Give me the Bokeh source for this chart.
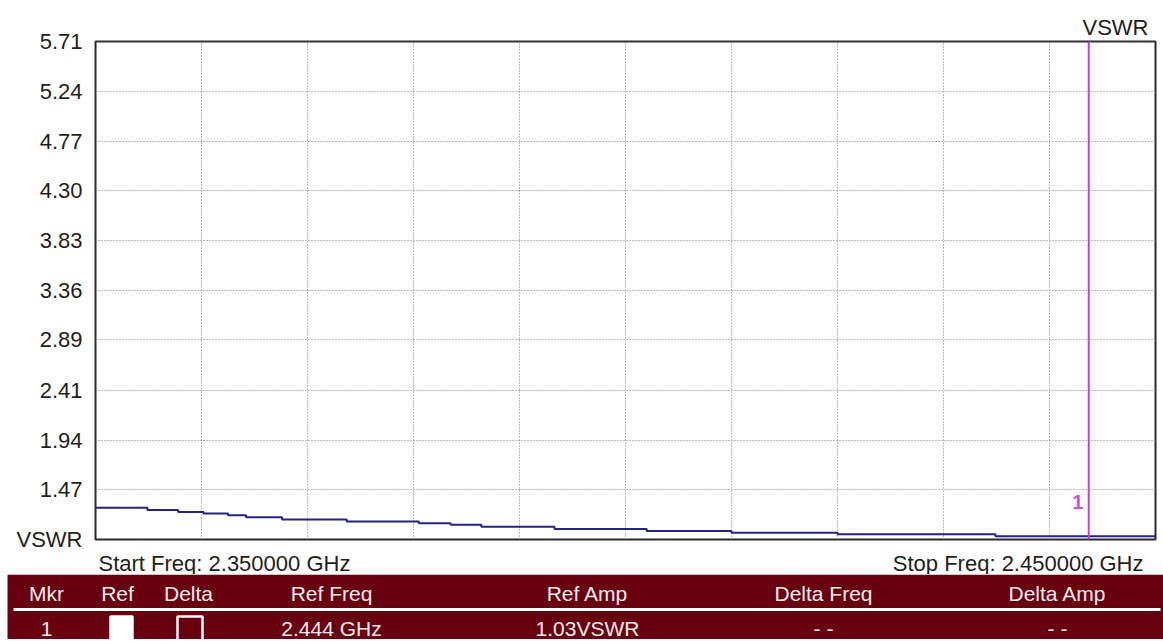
import numpy as np
from bokeh.plotting import figure
from bokeh.models import Range1d, FixedTicker, Label, Span
from bokeh.layouts import column
from bokeh.embed import file_html
from bokeh.resources import INLINE
from bokeh.core.properties import value

# ---------------- data ----------------
start_freq_ghz = 2.35
stop_freq_ghz = 2.45
# step edges of the measured VSWR trace (GHz) and the level of each step
freq_edges_ghz = [2.3500, 2.3549, 2.3578, 2.3602, 2.3625, 2.3642, 2.3676, 2.3737,
                  2.3805, 2.3835, 2.3864, 2.3933, 2.4020, 2.4100, 2.4200, 2.4349, 2.4500]
vswr_levels = [1.30, 1.28, 1.26, 1.245, 1.23, 1.21, 1.19, 1.17,
               1.155, 1.14, 1.12, 1.10, 1.08, 1.063, 1.05, 1.03]
y_min = 1.0
y_max = 5.714
y_tick_labels = ["1.47", "1.94", "2.41", "2.89", "3.36", "3.83", "4.30", "4.77", "5.24", "5.71"]
marker_freq_ghz = 2.4437
marker_name = "1"

table_headers = ["Mkr", "Ref", "Delta", "Ref Freq", "Ref Amp", "Delta Freq", "Delta Amp"]
table_row = ["1", "", "", "2.444 GHz", "1.03VSWR", "- -", "- -"]

# ---------------- styling ----------------
FONT = "Liberation Sans"
FS = "22px"
TXT = "#1e1e1e"
TABLE_BG = "#680010"
TABLE_TXT = "#f6ecec"
W = 1163

# ---------------- chart ----------------
p = figure(width=W, height=551, toolbar_location=None, output_backend="svg",
           x_range=Range1d(start_freq_ghz, stop_freq_ghz), y_range=Range1d(y_min, y_max),
           min_border_left=95, min_border_right=8, min_border_top=41, min_border_bottom=12,
           background_fill_color="white", border_fill_color="white")
p.title.text = "VSWR"
p.title.align = "right"
p.title.offset = 7
p.title.standoff = 3
p.title.text_font = FONT
p.title.text_font_size = FS
p.title.text_font_style = "normal"
p.title.text_color = TXT

p.xaxis.visible = False
p.outline_line_color = "#2a2a2a"
p.outline_line_width = 2

y_ticks = [y_min] + [float(t) for t in y_tick_labels]
overrides = {y_min: "VSWR"}
overrides.update({float(t): t for t in y_tick_labels})
yax = p.yaxis[0]
yax.ticker = FixedTicker(ticks=y_ticks)
yax.major_label_overrides = overrides
yax.axis_line_color = None
yax.major_tick_line_color = None
yax.minor_tick_line_color = None
yax.major_tick_out = 0
yax.major_label_standoff = 13
yax.major_label_text_font = FONT
yax.major_label_text_font_size = FS
yax.major_label_text_color = TXT

p.xgrid.ticker = FixedTicker(ticks=list(np.linspace(start_freq_ghz, stop_freq_ghz, 11)))
p.ygrid.ticker = FixedTicker(ticks=y_ticks)
for g in (p.xgrid[0], p.ygrid[0]):
    g.grid_line_color = "#777777"
    g.grid_line_dash = "1 2"
    g.grid_line_width = 1

# trace
p.step(x=freq_edges_ghz, y=vswr_levels + [vswr_levels[-1]], mode="after",
       line_color="#23238a", line_width=2)

# marker
p.add_layout(Span(location=marker_freq_ghz, dimension="height",
                  line_color="#c040d0", line_width=2))
p.add_layout(Label(x=marker_freq_ghz, y=y_min, x_offset=-11, y_offset=38, text=marker_name,
                   text_align="center", text_baseline="middle", text_color="#d050d8",
                   text_font=FONT, text_font_size="20px", text_font_style="bold"))

# ---------------- start / stop strip ----------------
s = figure(width=W, height=23, toolbar_location=None, output_backend="svg",
           x_range=p.x_range, y_range=Range1d(0, 1), x_axis_type=None, y_axis_type=None,
           min_border_left=95, min_border_right=8, min_border_top=0, min_border_bottom=0,
           background_fill_color="white", border_fill_color="white")
s.outline_line_color = None
s.grid.visible = False
s.text(x=[start_freq_ghz], y=[0.5], text=["Start Freq: %.6f GHz" % start_freq_ghz],
       x_offset=3, text_align="left", text_baseline="middle", text_color=TXT,
       text_font=value(FONT), text_font_size=FS)
s.text(x=[stop_freq_ghz], y=[0.5], text=["Stop Freq: %.6f GHz" % stop_freq_ghz],
       x_offset=-12, text_align="right", text_baseline="middle", text_color=TXT,
       text_font=value(FONT), text_font_size=FS)

# ---------------- marker table ----------------
TH = 65
t = figure(width=W, height=TH, toolbar_location=None, output_backend="svg",
           x_range=Range1d(0, W), y_range=Range1d(TH, 0),
           x_axis_type=None, y_axis_type=None, min_border=0,
           background_fill_color="white", border_fill_color="white")
t.frame_align = False
t.outline_line_color = None
t.grid.visible = False
t.quad(left=[7], right=[W], top=[0], bottom=[TH], fill_color=TABLE_BG, line_color=None)

col_x = [46, 117, 188, 331, 587, 823, 1057]
t.text(x=col_x, y=[19] * len(col_x), text=table_headers, text_align="center",
       text_baseline="middle", text_color=TABLE_TXT, text_font=value(FONT), text_font_size="21px")
t.segment(x0=[13], y0=[35], x1=[1160], y1=[35], line_color="white", line_width=3)
t.text(x=col_x, y=[54] * len(col_x), text=table_row, text_align="center",
       text_baseline="middle", text_color=TABLE_TXT, text_font=value(FONT), text_font_size="21px")
# Ref / Delta check boxes
t.quad(left=[110, 177], right=[132, 202], top=[42, 42], bottom=[70, 70],
       fill_color=["#ffffff", TABLE_BG], line_color="#ffffff", line_width=2.5)

layout = column(p, s, t, spacing=0)
open("out.html", "w").write(file_html(layout, INLINE))
